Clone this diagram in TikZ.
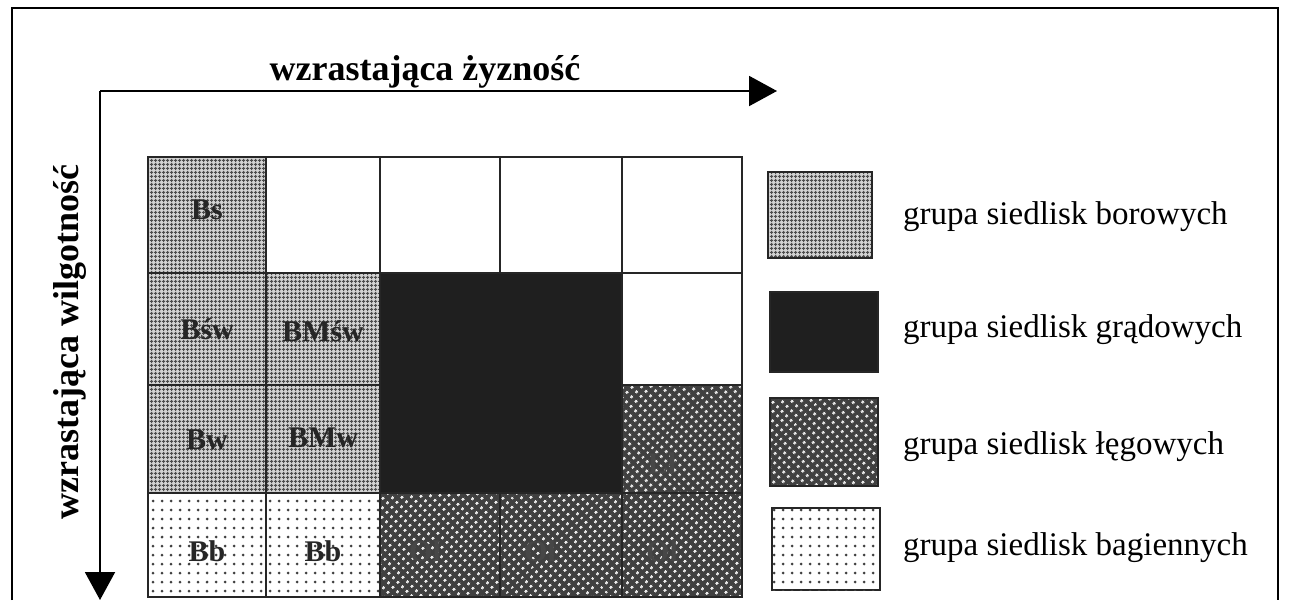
\documentclass[tikz,border=0pt]{standalone}
\usepackage{fontspec}
\setmainfont{Liberation Serif}
\usetikzlibrary{patterns.meta,arrows.meta}
\begin{document}
\begin{tikzpicture}[x=1pt,y=-1pt,
  cellline/.style={draw=black!85,line width=2},
  bor/.style={cellline,preaction={fill=gray!35},pattern={Hatch[distance=4pt,line width=1pt]},pattern color=gray!60!black},
  grad/.style={cellline,fill=black!88},
  leg/.style={cellline,preaction={fill=black!75},pattern={Dots[distance=6.5pt,radius=1.6pt,angle=45]},pattern color=white!85!gray},
  bag/.style={cellline,fill=white,postaction={pattern={Dots[distance=9pt,radius=1.5pt]},pattern color=gray!50!black}},
  empt/.style={cellline,fill=white},
  clab/.style={font=\fontsize{30}{32}\selectfont\bfseries,text=black!85,inner sep=0},
  dlab/.style={font=\fontsize{30}{32}\selectfont\bfseries,text=black!72,inner sep=0},
  legtext/.style={anchor=west,font=\fontsize{33}{37}\selectfont,inner sep=0},
  axtext/.style={font=\fontsize{36}{40}\selectfont\bfseries,inner sep=0},
  axis/.style={line width=2,-{Triangle[length=28pt,width=30pt]}}]
\useasboundingbox (0,0) rectangle (1289,600);
\fill[white] (0,0) rectangle (1289,600);
% outer frame
\draw[line width=2.5] (12,600) -- (12,8) -- (1278,8) -- (1278,600);
% axes
\coordinate (o) at (100,91);
\coordinate (xe) at (777,91);
\coordinate (ye) at (100,600);
\draw[axis] (o) -- (xe);
\draw[axis] (o) -- (ye);
\node[axtext] (xt) at (425,72) {wzrastająca żyzność};
\node[axtext,rotate=90] (yt) at (70,342) {wzrastająca wilgotność};
% row 1
\node[bor,minimum width=118,minimum height=116] (c11) at (207,215) {};
\node[empt,minimum width=114,minimum height=116] (c12) at (323,215) {};
\node[empt,minimum width=120,minimum height=116] (c13) at (440,215) {};
\node[empt,minimum width=122,minimum height=116] (c14) at (561,215) {};
\node[empt,minimum width=120,minimum height=116] (c15) at (682,215) {};
% row 2
\node[bor,minimum width=118,minimum height=112] (c21) at (207,329) {};
\node[bor,minimum width=114,minimum height=112] (c22) at (323,329) {};
\node[empt,minimum width=120,minimum height=112] (c25) at (682,329) {};
% row 3
\node[bor,minimum width=118,minimum height=108] (c31) at (207,439) {};
\node[bor,minimum width=114,minimum height=108] (c32) at (323,439) {};
\node[leg,minimum width=120,minimum height=108] (c35) at (682,439) {};
% row 4
\node[bag,minimum width=118,minimum height=104] (c41) at (207,545) {};
\node[bag,minimum width=114,minimum height=104] (c42) at (323,545) {};
\node[leg,minimum width=120,minimum height=104] (c43) at (440,545) {};
\node[leg,minimum width=122,minimum height=104] (c44) at (561,545) {};
\node[leg,minimum width=120,minimum height=104] (c45) at (682,545) {};
% merged grad block
\node[grad,minimum width=242,minimum height=220] (gr) at (501,383) {};
% labels
\node[clab] at (207,210) {Bs};
\node[clab] at (207,329) {Bśw};
\node[clab] at (323,331) {BMśw};
\node[clab] at (207,440) {Bw};
\node[clab] at (323,438) {BMw};
\node[clab] at (207,551) {Bb};
\node[clab] at (323,551) {Bb};
\node[dlab] at (425,551) {Ol};
\node[dlab] at (540,551) {Ol};
\node[dlab] at (662,551) {Ol};
\node[dlab] at (662,463) {Lł};
% legend
\node[bor,line width=2.5,minimum width=104,minimum height=86] (l1) at (820,215) {};
\node[grad,line width=2.5,minimum width=108,minimum height=80] (l2) at (824,332) {};
\node[leg,line width=2.5,minimum width=108,minimum height=88] (l3) at (824,442) {};
\node[bag,line width=2.5,minimum width=108,minimum height=82] (l4) at (826,549) {};
\node[legtext] (t1) at (903,217) {grupa siedlisk borowych};
\node[legtext] (t2) at (903,330) {grupa siedlisk grądowych};
\node[legtext] (t3) at (903,447) {grupa siedlisk łęgowych};
\node[legtext] (t4) at (903,548) {grupa siedlisk bagiennych};
\end{tikzpicture}
\end{document}
